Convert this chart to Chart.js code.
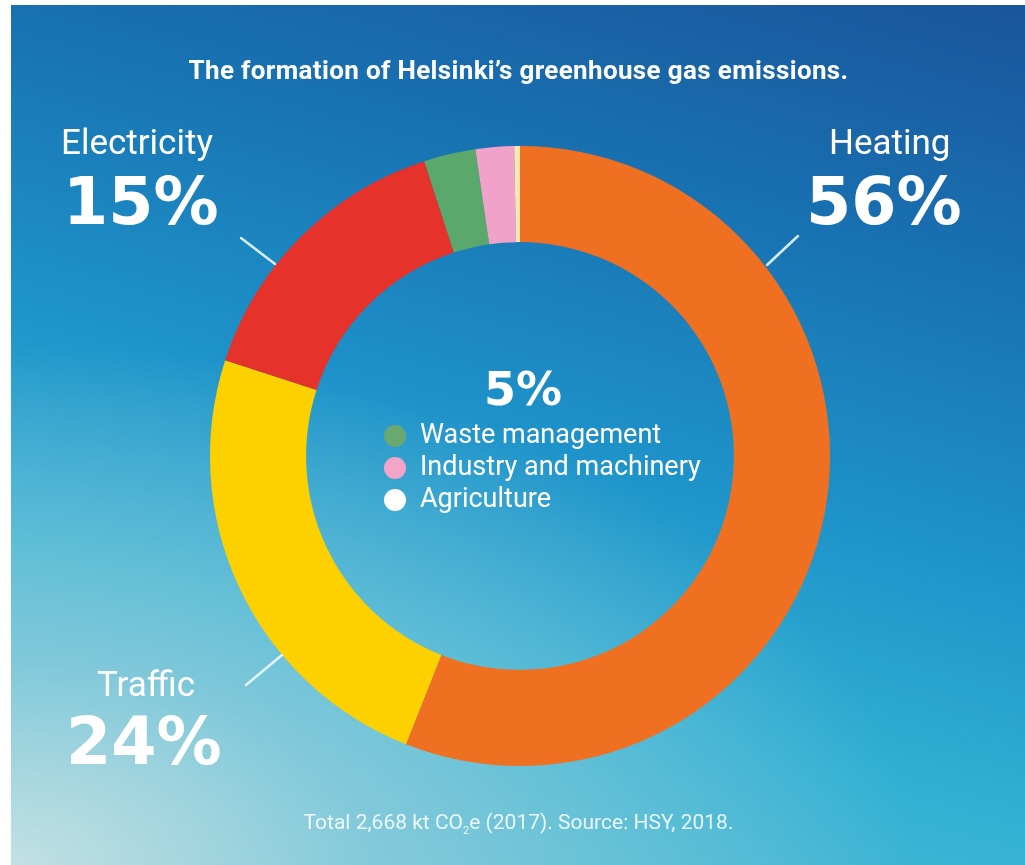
<!DOCTYPE html>
<html>
<head>
<meta charset="utf-8">
<script src="https://cdn.jsdelivr.net/npm/chart.js@4"></script>
<style>
  html, body { margin: 0; padding: 0; background: #fff; }
  body { width: 1025px; height: 865px; position: relative; overflow: hidden; font-family: Roboto, "Noto Sans", sans-serif; }
  .panel {
    position: absolute; left: 11px; top: 5px; right: 0; bottom: 0;
    background:
      radial-gradient(ellipse 900px 520px at 0% 100%, rgba(200,226,228,0.95) 0%, rgba(160,210,220,0.65) 40%, rgba(120,195,215,0) 100%),
      linear-gradient(195deg, #1a559b 0%, #1872b2 25%, #1e93ca 50%, #32b0d3 72%, #5cc0d6 100%);
  }
  canvas#chart { position: absolute; left: 0; top: 0; }
  .t { position: absolute; color: #fff; white-space: nowrap; }
  .title { left: 0; width: 1037px; top: 55px; text-align: center; font-weight: 700; font-size: 26px; letter-spacing: 0.35px; }
  .name { font-size: 35px; font-weight: 400; }
  .big { font-family: "DejaVu Sans", sans-serif; font-size: 65px; font-weight: 700; }
  .mid { font-family: "DejaVu Sans", sans-serif; font-size: 46px; font-weight: 700; }
  .leg { font-size: 27px; font-weight: 400; }
  .dot { position: absolute; width: 22px; height: 22px; border-radius: 50%; }
  .foot { left: 0; width: 1037px; top: 810px; text-align: center; font-size: 21px; color: rgba(255,255,255,0.85); }
</style>
</head>
<body>
<div class="panel"></div>
<canvas id="chart" width="1025" height="865"></canvas>

<div class="t title">The formation of Helsinki’s greenhouse gas emissions.</div>

<div class="t name" style="left:61px;top:122px;">Electricity</div>
<div class="t big" style="left:63px;top:164px;">15%</div>
<div class="t name" style="left:829px;top:122px;">Heating</div>
<div class="t big" style="left:806px;top:164px;">56%</div>
<div class="t name" style="left:97px;top:664px;">Traffic</div>
<div class="t big" style="left:66px;top:704px;">24%</div>

<div class="t mid" style="left:484px;top:362px;">5%</div>
<div class="dot" style="left:384px;top:425px;background:#6aa871;"></div>
<div class="t leg" style="left:420px;top:418px;">Waste management</div>
<div class="dot" style="left:384px;top:457px;background:#f2a5c8;"></div>
<div class="t leg" style="left:420px;top:450px;">Industry and machinery</div>
<div class="dot" style="left:384px;top:489px;background:#ffffff;"></div>
<div class="t leg" style="left:420px;top:482px;">Agriculture</div>

<div class="t foot">Total 2,668 kt CO<sub style="font-size:11px;">2</sub>e (2017). Source: HSY, 2018.</div>

<script>
const categories = ['Heating', 'Traffic', 'Electricity', 'Waste management', 'Industry and machinery', 'Agriculture'];
const shares = [56, 24, 15, 2.7, 2.0, 0.3];
const colors = ['#f07022', '#fdd000', '#e5322a', '#5aa86c', '#f0a2c8', '#f8e7b4'];

// short white pointer lines from the labels to the ring
const leaders = [
  [[241, 238], [275, 264]],
  [[798, 236], [767, 265]],
  [[282, 655], [246, 685]]
];

const leaderLines = {
  id: 'leaderLines',
  afterDraw(chart) {
    const ctx = chart.ctx;
    ctx.save();
    ctx.strokeStyle = 'rgba(235,250,255,0.9)';
    ctx.lineWidth = 2.5;
    ctx.lineCap = 'round';
    leaders.forEach(l => {
      ctx.beginPath();
      ctx.moveTo(l[0][0], l[0][1]);
      ctx.lineTo(l[1][0], l[1][1]);
      ctx.stroke();
    });
    ctx.restore();
  }
};

let chart = document.getElementById('chart').getContext('2d');

let emissions = new Chart(chart, {
  type: 'doughnut',
  data: {
    labels: categories,
    datasets: [{
      data: shares,
      backgroundColor: colors,
      borderWidth: 0
    }]
  },
  options: {
    responsive: false,
    animation: false,
    cutout: '69%',
    layout: { padding: { left: 210, right: 195, top: 146, bottom: 99 } },
    plugins: {
      legend: { display: false },
      tooltip: { enabled: false }
    }
  },
  plugins: [leaderLines]
});
</script>
</body>
</html>
